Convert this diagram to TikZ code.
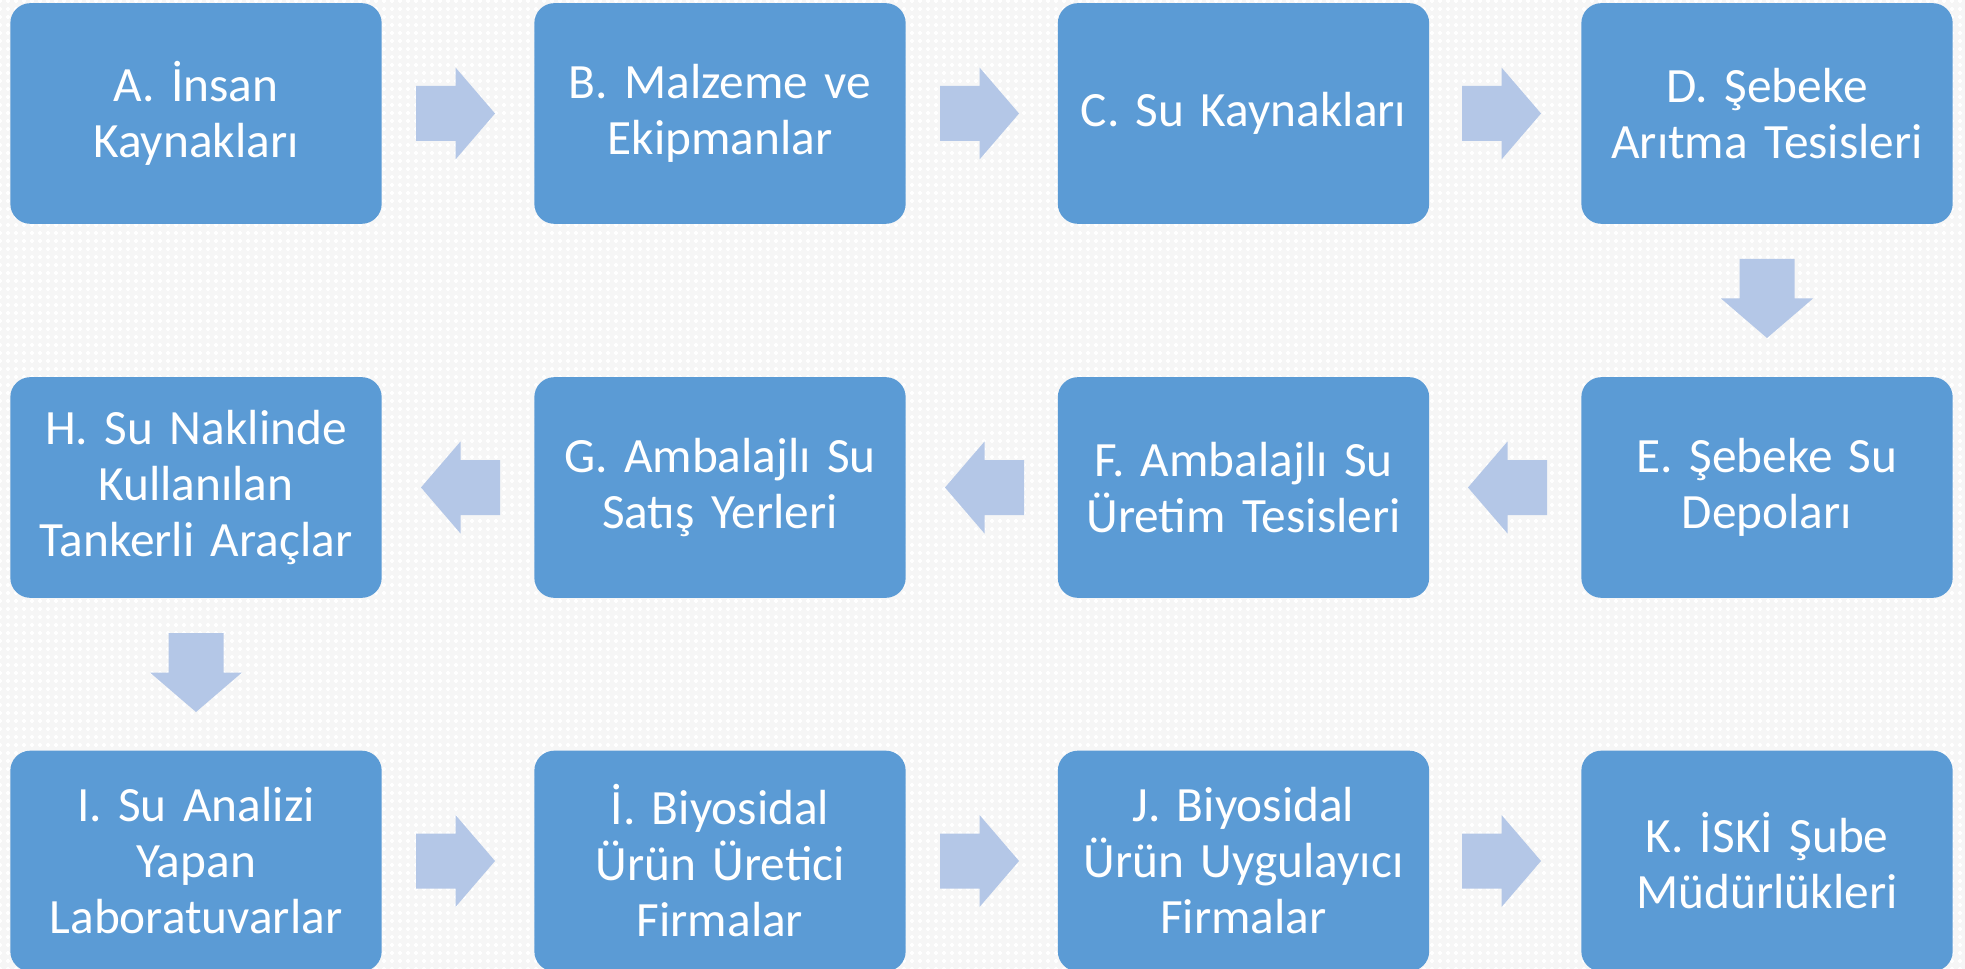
\documentclass[tikz,border=0pt]{standalone}
\usepackage{fontspec}
\setmainfont[WordSpace=0.85]{Carlito}
\usetikzlibrary{patterns.meta}
\definecolor{boxblue}{HTML}{5B9BD5}
\definecolor{arrowblue}{HTML}{B4C7E7}
\definecolor{bggray}{HTML}{F6F6F6}
\tikzdeclarepattern{
  name=bgdots,
  type=uncolored,
  bottom left={(-4.5pt,-4.5pt)},
  top right={(4.5pt,4.5pt)},
  tile size={(6pt,6pt)},
  code={
    \fill (-0.45pt,-1.6pt) rectangle (0.45pt,1.6pt);
    \fill (-1.6pt,-0.45pt) rectangle (1.6pt,0.45pt);
  }
}
\tikzset{
  stepbox/.style={fill=boxblue, draw=none, rounded corners=15pt,
    minimum width=278.5pt, minimum height=165.5pt, inner sep=0pt,
    text=white, align=center, text width=275pt,
    font=\fontsize{37pt}{42pt}\selectfont},
  barrow/.pic={\fill[arrowblue] (-39.5,-27.5) -- (0,-27.5) -- (0,-46) -- (39.5,0)
     -- (0,46) -- (0,27.5) -- (-39.5,27.5) -- cycle;}
}
\begin{document}
\begin{tikzpicture}[x=0.75pt,y=-0.75pt]
\useasboundingbox (0,0) rectangle (1965,969);
\fill[bggray] (0,0) rectangle (1965,969);
\fill[pattern=bgdots, pattern color=white] (0,0) rectangle (1965,969);
% row 1
\node[stepbox] (A) at (196,113.5) {A. İnsan\\Kaynakları};
\node[stepbox] (B) at (720,113.5) {B. Malzeme ve\\Ekipmanlar};
\node[stepbox] (C) at (1243.5,113.5) {C. Su Kaynakları};
\node[stepbox] (D) at (1767,113.5) {D. Şebeke\\Arıtma Tesisleri};
% row 2
\node[stepbox] (H) at (196,487.5) {H. Su Naklinde\\Kullanılan\\Tankerli Araçlar};
\node[stepbox] (G) at (720,487.5) {G. Ambalajlı Su\\Satış Yerleri};
\node[stepbox] (F) at (1243.5,487.5) {F. Ambalajlı Su\\Üretim Tesisleri};
\node[stepbox] (E) at (1767,487.5) {E. Şebeke Su\\Depoları};
% row 3
\node[stepbox] (I) at (196,861) {I. Su Analizi\\Yapan\\Laboratuvarlar};
\node[stepbox] (Ib) at (720,861) {İ. Biyosidal\\Ürün Üretici\\Firmalar};
\node[stepbox] (J) at (1243.5,861) {J. Biyosidal\\Ürün Uygulayıcı\\Firmalar};
\node[stepbox] (K) at (1767,861) {K. İSKİ Şube\\Müdürlükleri};
% arrows
\pic at (455.5,113.5) {barrow};
\pic at (979.5,113.5) {barrow};
\pic at (1501.5,113.5) {barrow};
\pic[rotate=-90] at (1767,298.5) {barrow};
\pic[rotate=180] at (1507.5,487.5) {barrow};
\pic[rotate=180] at (984.5,487.5) {barrow};
\pic[rotate=180] at (460.5,487.5) {barrow};
\pic[rotate=-90] at (196,672.5) {barrow};
\pic at (455.5,861) {barrow};
\pic at (979.5,861) {barrow};
\pic at (1501.5,861) {barrow};
\end{tikzpicture}
\end{document}
